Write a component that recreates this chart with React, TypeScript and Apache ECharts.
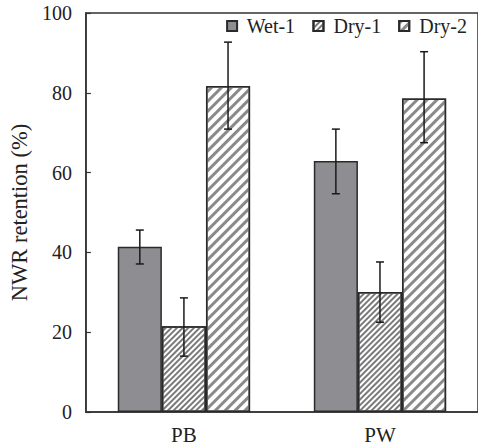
import React, { useEffect, useRef } from "react";
import * as echarts from "echarts";

const categories = ["PB", "PW"];
const seriesNames = ["Wet-1", "Dry-1", "Dry-2"];
const wet1 = [41.4, 62.9];
const dry1 = [21.5, 30.1];
const dry2 = [81.7, 78.6];
const wet1Err = [[37.1, 45.6], [54.7, 70.9]];
const dry1Err = [[14.0, 28.6], [22.5, 37.6]];
const dry2Err = [[70.9, 92.7], [67.5, 90.3]];
const yTicks = [0, 20, 40, 60, 80, 100];

const FONT = "'Liberation Serif', 'Times New Roman', Times, serif";
const BAR_FRACTION = 0.675;

export default function App() {
  const ref = useRef<HTMLDivElement>(null);
  useEffect(() => {
    const chart = echarts.init(ref.current!, null, { renderer: "svg" });
    const values = [wet1, dry1, dry2];
    const errs = [wet1Err, dry1Err, dry2Err];
    const styles: any[] = [
      { color: "#8e8e92", borderColor: "#2a2a2a", borderWidth: 1.5 },
      {
        color: "#ffffff",
        borderColor: "#2a2a2a",
        borderWidth: 1.5,
        decal: {
          symbol: "rect",
          color: "#7a7a7a",
          dashArrayX: [1, 0],
          dashArrayY: [1.5, 1.5],
          rotation: -Math.PI / 4,
          symbolSize: 1,
        },
      },
      {
        color: "#ffffff",
        borderColor: "#2a2a2a",
        borderWidth: 1.5,
        decal: {
          symbol: "rect",
          color: "#8a8a8a",
          dashArrayX: [1, 0],
          dashArrayY: [3, 4],
          rotation: -Math.PI / 4,
          symbolSize: 1,
        },
      },
    ];
    const barSeries = seriesNames.map((name, i) => ({
      name,
      type: "bar",
      data: values[i],
      barGap: "0%",
      barCategoryGap: "32.5%",
      itemStyle: styles[i],
      z: 2,
    }));
    const errData: any[] = [];
    errs.forEach((arr, si) => {
      arr.forEach((e, ci) => errData.push([ci, e[0], e[1], si]));
    });
    const errSeries = {
      type: "custom",
      name: "err",
      data: errData,
      z: 5,
      silent: true,
      encode: { x: 0, y: [1, 2] },
      renderItem: (params: any, api: any) => {
        const ci = api.value(0);
        const lo = api.value(1);
        const hi = api.value(2);
        const si = api.value(3);
        const band = api.size([1, 0])[0];
        const bw = (band * BAR_FRACTION) / 3;
        const pLo = api.coord([ci, lo]);
        const pHi = api.coord([ci, hi]);
        const x = pLo[0] + (si - 1) * bw;
        const cap = 4;
        const st = { stroke: "#1a1a1a", lineWidth: 1.5 };
        return {
          type: "group",
          children: [
            { type: "line", shape: { x1: x, y1: pLo[1], x2: x, y2: pHi[1] }, style: st },
            { type: "line", shape: { x1: x - cap, y1: pLo[1], x2: x + cap, y2: pLo[1] }, style: st },
            { type: "line", shape: { x1: x - cap, y1: pHi[1], x2: x + cap, y2: pHi[1] }, style: st },
          ],
        };
      },
    };
    chart.setOption({
      animation: false,
      grid: {
        left: 84,
        top: 13,
        bottom: 35,
        right: -5,
        show: true,
        borderColor: "#333",
        borderWidth: 1.5,
      },
      legend: {
        data: seriesNames.map((n) => ({ name: n, icon: "rect" })),
        formatter: (n: string) => " " + n,
        top: 16,
        right: 11,
        padding: 0,
        itemWidth: 10,
        itemHeight: 10,
        itemGap: 17,
        textStyle: { fontFamily: FONT, fontSize: 20, color: "#222" },
      },
      xAxis: {
        type: "category",
        data: categories,
        axisLine: { lineStyle: { color: "#333", width: 1.5 } },
        axisTick: { inside: true, length: 6, lineStyle: { color: "#333", width: 1.5 } },
        axisLabel: { fontFamily: FONT, fontSize: 21, color: "#222", margin: 12 },
      },
      yAxis: {
        type: "value",
        min: 0,
        max: 100,
        interval: 20,
        name: "NWR retention (%)",
        nameLocation: "middle",
        nameGap: 43,
        nameTextStyle: { fontFamily: FONT, fontSize: 22.5, color: "#222" },
        axisLine: { show: true, lineStyle: { color: "#333", width: 1.5 } },
        axisTick: { show: true, inside: true, length: 5, lineStyle: { color: "#333", width: 1.2 } },
        splitLine: { show: false },
        axisLabel: {
          fontFamily: FONT,
          fontSize: 20,
          color: "#222",
          margin: 14,
          formatter: (v: number) => (yTicks.includes(v) ? String(v) : ""),
        },
      },
      series: [...barSeries, errSeries],
    });
    return () => chart.dispose();
  }, []);
  return (
    <div
      ref={ref}
      style={{ position: "fixed", left: 0, top: 0, width: 478, height: 447, background: "#fff" }}
    />
  );
}
